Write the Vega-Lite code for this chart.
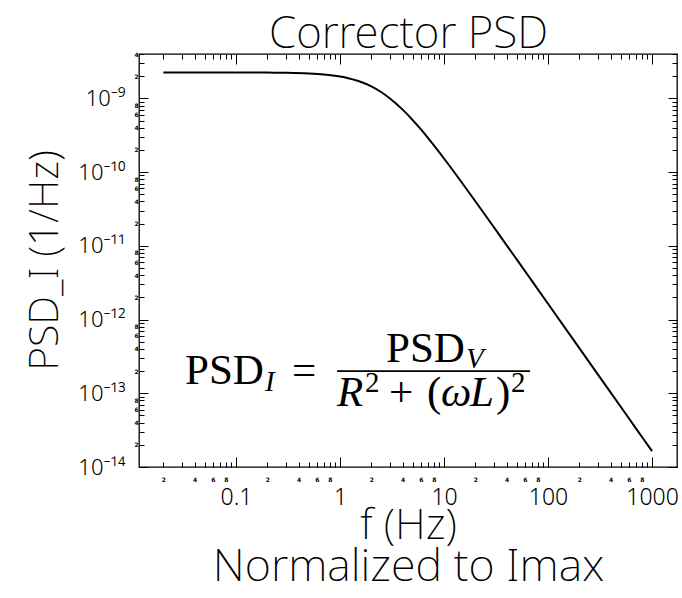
{
  "$schema": "https://vega.github.io/schema/vega-lite/v6.json",
  "width": 538,
  "height": 413,
  "autosize": {"type": "none"},
  "padding": {"left": 139, "top": 54, "right": 5, "bottom": 131},
  "background": "white",
  "config": {
    "view": {"stroke": "black", "strokeWidth": 1.3},
    "axis": {"grid": false, "domain": false, "tickColor": "black", "tickWidth": 1, "labelColor": "black", "titleColor": "black", "labelFont": "Noto Sans", "titleFont": "Noto Sans", "labelFontWeight": 300, "titleFontWeight": 200, "labelOverlap": false, "labelFlush": false, "labelBound": false}
  },
  "datasets": {
    "curve": [
      {"f": 0.02, "psd": 2.2499e-9}, {"f": 0.03, "psd": 2.2497e-9}, {"f": 0.05, "psd": 2.2492e-9},
      {"f": 0.1, "psd": 2.2469e-9}, {"f": 0.2, "psd": 2.2377e-9}, {"f": 0.3, "psd": 2.2226e-9},
      {"f": 0.5, "psd": 2.1754e-9}, {"f": 0.7, "psd": 2.1083e-9}, {"f": 1, "psd": 1.9786e-9},
      {"f": 1.2, "psd": 1.8789e-9}, {"f": 1.5, "psd": 1.7193e-9}, {"f": 2, "psd": 1.4528e-9},
      {"f": 2.5, "psd": 1.2114e-9}, {"f": 3, "psd": 1.0069e-9}, {"f": 4, "psd": 7.0427e-10},
      {"f": 5, "psd": 5.0797e-10}, {"f": 6, "psd": 3.789e-10}, {"f": 7, "psd": 2.9139e-10},
      {"f": 10, "psd": 1.5288e-10}, {"f": 15, "psd": 7.0612e-11}, {"f": 20, "psd": 4.0272e-11},
      {"f": 30, "psd": 1.8078e-11}, {"f": 50, "psd": 6.5419e-12}, {"f": 70, "psd": 3.3425e-12},
      {"f": 100, "psd": 1.6391e-12}, {"f": 200, "psd": 4.0999e-13}, {"f": 300, "psd": 1.8223e-13},
      {"f": 500, "psd": 6.5609e-14}, {"f": 700, "psd": 3.3474e-14}, {"f": 1000, "psd": 1.6402e-14}
    ],
    "up": [
      {"t": "PSD", "f": 0.03233, "psd": 1.3326e-13},
      {"t": "=", "f": 0.3456, "psd": 1.3326e-13},
      {"t": "PSD", "f": 2.769, "psd": 2.6476e-13},
      {"t": "+", "f": 2.96, "psd": 6.708e-14},
      {"t": "(", "f": 6.864, "psd": 6.708e-14},
      {"t": ")", "f": 31.62, "psd": 6.708e-14}
    ],
    "it": [
      {"t": "R", "f": 0.9359, "psd": 6.708e-14},
      {"t": "ω", "f": 9.359, "psd": 6.708e-14},
      {"t": "L", "f": 17.78, "psd": 6.708e-14}
    ],
    "sup": [
      {"t": "2", "f": 1.74, "psd": 1.0382e-13},
      {"t": "2", "f": 44.08, "psd": 1.0382e-13}
    ],
    "sub": [
      {"t": "I", "f": 0.19, "psd": 1.071e-13},
      {"t": "V", "f": 16.28, "psd": 2.195e-13}
    ],
    "bar": [
      {"f": 0.9359, "f2": 67.13, "psd": 1.9983e-13}
    ]
  },
  "resolve": {"axis": {"x": "independent", "y": "independent"}},
  "layer": [
    {
      "data": {"name": "curve"},
      "mark": {"type": "line", "color": "black", "strokeWidth": 2, "interpolate": "monotone"},
      "encoding": {
        "x": {"field": "f", "type": "quantitative",
          "scale": {"type": "log", "domain": [0.01167, 1738], "nice": false},
          "axis": {"orient": "bottom", "values": [0.1, 1, 10, 100, 1000], "tickSize": -10,
            "labelExpr": "format(datum.value, '~g')", "labelFontSize": 23, "labelPadding": 29, "labelBaseline": "top",
            "title": "f (Hz)", "titleFontSize": 43, "titleY": 71, "titleBaseline": "alphabetic"}},
        "y": {"field": "psd", "type": "quantitative",
          "scale": {"type": "log", "domain": [1e-14, 4e-9], "nice": false},
          "axis": {"orient": "left", "values": [1e-14, 1e-13, 1e-12, 1e-11, 1e-10, 1e-9], "tickSize": -9,
            "labelExpr": "['10⁻¹⁴','10⁻¹³','10⁻¹²','10⁻¹¹','10⁻¹⁰','10⁻⁹'][round(log(datum.value)/LN10)+14]",
            "labelFontSize": 22, "labelPadding": 23, "labelBaseline": "middle",
            "title": "PSD_I (1/Hz)", "titleFontSize": 41, "titleAngle": -90, "titleX": -82, "titleY": 206, "titleBaseline": "alphabetic", "titleAlign": "center"}}
      }
    },
    {
      "data": {"name": "up"},
      "mark": {"type": "text", "font": "Liberation Serif", "fontSize": 43, "align": "left", "baseline": "alphabetic", "color": "black"},
      "encoding": {
        "text": {"field": "t"},
        "x": {"field": "f", "type": "quantitative",
          "axis": {"orient": "bottom", "tickSize": -5,
            "values": [0.02,0.03,0.04,0.05,0.06,0.07,0.08,0.09,0.2,0.3,0.4,0.5,0.6,0.7,0.8,0.9,2,3,4,5,6,7,8,9,20,30,40,50,60,70,80,90,200,300,400,500,600,700,800,900],
            "labelExpr": "(round(datum.value/pow(10,floor(log(datum.value)/LN10+1e-9))) % 2 == 0) ? format(round(datum.value/pow(10,floor(log(datum.value)/LN10+1e-9))), 'd') : ''",
            "labelFontSize": 6, "labelFont": "DejaVu Sans", "labelFontWeight": "bold", "labelPadding": 17, "labelBaseline": "middle",
            "title": "Normalized to Imax", "titleFontSize": 45, "titleY": 113, "titleBaseline": "alphabetic"}},
        "y": {"field": "psd", "type": "quantitative",
          "axis": {"orient": "left", "tickSize": -5,
            "values": [2e-14,3e-14,4e-14,5e-14,6e-14,7e-14,8e-14,9e-14,2e-13,3e-13,4e-13,5e-13,6e-13,7e-13,8e-13,9e-13,2e-12,3e-12,4e-12,5e-12,6e-12,7e-12,8e-12,9e-12,2e-11,3e-11,4e-11,5e-11,6e-11,7e-11,8e-11,9e-11,2e-10,3e-10,4e-10,5e-10,6e-10,7e-10,8e-10,9e-10,2e-9,3e-9,4e-9],
            "labelExpr": "(round(datum.value/pow(10,floor(log(datum.value)/LN10+1e-9))) % 2 == 0) ? format(round(datum.value/pow(10,floor(log(datum.value)/LN10+1e-9))), 'd') : ''",
            "labelFontSize": 6, "labelFont": "DejaVu Sans", "labelFontWeight": "bold", "labelPadding": 8, "labelAlign": "center", "labelBaseline": "middle", "title": null}}
      }
    },
    {
      "data": {"name": "it"},
      "mark": {"type": "text", "font": "Liberation Serif", "fontStyle": "italic", "fontSize": 43, "align": "left", "baseline": "alphabetic", "color": "black"},
      "encoding": {
        "text": {"field": "t"},
        "x": {"field": "f", "type": "quantitative",
          "axis": {"orient": "top", "tickSize": -10, "values": [0.1, 1, 10, 100, 1000], "labels": false,
            "title": "Corrector PSD", "titleFontSize": 44, "titleY": -7, "titleBaseline": "alphabetic"}},
        "y": {"field": "psd", "type": "quantitative",
          "axis": {"orient": "right", "tickSize": -9, "values": [1e-14, 1e-13, 1e-12, 1e-11, 1e-10, 1e-9], "labels": false, "title": null}}
      }
    },
    {
      "data": {"name": "sup"},
      "mark": {"type": "text", "font": "Liberation Serif", "fontSize": 29, "align": "left", "baseline": "alphabetic", "color": "black"},
      "encoding": {
        "text": {"field": "t"},
        "x": {"field": "f", "type": "quantitative",
          "axis": {"orient": "top", "tickSize": -5, "labels": false, "title": null,
            "values": [0.02,0.03,0.04,0.05,0.06,0.07,0.08,0.09,0.2,0.3,0.4,0.5,0.6,0.7,0.8,0.9,2,3,4,5,6,7,8,9,20,30,40,50,60,70,80,90,200,300,400,500,600,700,800,900]}},
        "y": {"field": "psd", "type": "quantitative",
          "axis": {"orient": "right", "tickSize": -5, "labels": false, "title": null,
            "values": [2e-14,3e-14,4e-14,5e-14,6e-14,7e-14,8e-14,9e-14,2e-13,3e-13,4e-13,5e-13,6e-13,7e-13,8e-13,9e-13,2e-12,3e-12,4e-12,5e-12,6e-12,7e-12,8e-12,9e-12,2e-11,3e-11,4e-11,5e-11,6e-11,7e-11,8e-11,9e-11,2e-10,3e-10,4e-10,5e-10,6e-10,7e-10,8e-10,9e-10,2e-9,3e-9,4e-9]}}
      }
    },
    {
      "data": {"name": "sub"},
      "mark": {"type": "text", "font": "Liberation Serif", "fontStyle": "italic", "fontSize": 29, "align": "left", "baseline": "alphabetic", "color": "black"},
      "encoding": {
        "text": {"field": "t"},
        "x": {"field": "f", "type": "quantitative", "axis": null},
        "y": {"field": "psd", "type": "quantitative", "axis": null}
      }
    },
    {
      "data": {"name": "bar"},
      "mark": {"type": "rule", "color": "black", "strokeWidth": 1.6},
      "encoding": {
        "x": {"field": "f", "type": "quantitative", "axis": null},
        "x2": {"field": "f2"},
        "y": {"field": "psd", "type": "quantitative", "axis": null}
      }
    }
  ]
}
